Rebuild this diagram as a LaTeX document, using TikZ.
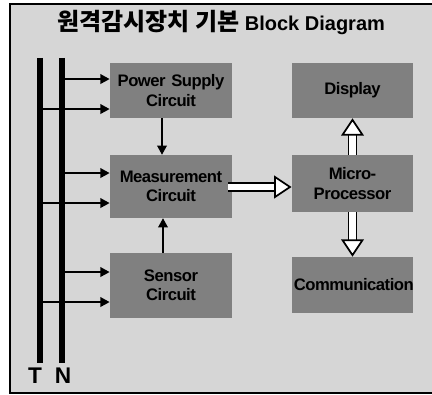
\documentclass[tikz,border=0pt]{standalone}
\usepackage{fontspec}
\setmainfont{Liberation Sans}
\newfontfamily\kr{Noto Sans CJK KR}
\newfontfamily\boxfont{Liberation Sans}[LetterSpace=-3]
\usetikzlibrary{arrows.meta,calc}
\definecolor{bg}{gray}{0.84}
\definecolor{boxfill}{gray}{0.50}
\tikzset{
  blockbox/.style={draw=none, fill=boxfill, inner sep=0pt, align=center,
    font=\boxfont\bfseries\fontsize{12.5}{14.5}\selectfont, text width=88pt},
  bus/.style={line width=4.6pt},
  feed/.style={line width=1.9pt, -{Triangle[length=7pt,width=7pt]}},
  hollow/.style={double=white, double distance=4.8pt, line width=1.3pt,
    -{Triangle[length=13pt,width=17pt,fill=white,line width=1.3pt]}},
  buslabel/.style={font=\bfseries\fontsize{17}{17}\selectfont, inner sep=0pt}
}
\begin{document}
\begin{tikzpicture}[x=0.75pt,y=-0.75pt]
\useasboundingbox (0,0) rectangle (432,395);
\fill[bg] (10,4) rectangle (432,393);
\draw[line width=1.2pt] (432,4) -- (10,4) -- (10,393) -- (432,393);

\node[inner sep=0pt, anchor=west] (title) at (57,22) {\kr\bfseries\fontsize{18}{20}\selectfont 원격감시장치 기본 \normalfont\bfseries\fontsize{15}{17}\selectfont Block Diagram};

% bus lines
\coordinate (Ttop) at (40,58);
\coordinate (Tbot) at (40,363);
\coordinate (Ntop) at (62,58);
\coordinate (Nbot) at (62,363);
\draw[bus] (Ttop) -- (Tbot);
\draw[bus] (Ntop) -- (Nbot);
\node[buslabel] (Tlab) at (35,376) {T};
\node[buslabel] (Nlab) at (63,376) {N};

% boxes
\node[blockbox, minimum width=91.5pt, minimum height=41.25pt] (pwr) at (171,90.5) {Power Supply\\Circuit};
\node[blockbox, minimum width=91.5pt, minimum height=47pt] (meas) at (171,186.5) {Measurement\\Circuit};
\node[blockbox, minimum width=91.5pt, minimum height=48.5pt] (sens) at (171,285.5) {Sensor\\Circuit};
\node[blockbox, minimum width=91pt, minimum height=41.25pt] (disp) at (352.5,90.5) {Display};
\node[blockbox, minimum width=91pt, minimum height=43pt] (micro) at (352.5,183.5) {Micro-\\Processor};
\node[blockbox, minimum width=91pt, minimum height=42pt] (comm) at (352.5,285) {Communication};

% feed arrows from bus
\coordinate (p1) at ([yshift=8.6pt]pwr.west);
\coordinate (p2) at ([yshift=-13.9pt]pwr.west);
\coordinate (m1) at ([yshift=10.1pt]meas.west);
\coordinate (m2) at ([yshift=-12.4pt]meas.west);
\coordinate (s1) at ([yshift=10.1pt]sens.west);
\coordinate (s2) at ([yshift=-12.4pt]sens.west);
\draw[feed] (Ntop |- p1) -- (p1);
\draw[feed] (Ttop |- p2) -- (p2);
\draw[feed] (Ntop |- m1) -- (m1);
\draw[feed] (Ttop |- m2) -- (m2);
\draw[feed] (Ntop |- s1) -- (s1);
\draw[feed] (Ttop |- s2) -- (s2);

% vertical arrows into measurement
\draw[feed] ([xshift=-6.75pt]pwr.south) -- ([xshift=-6.75pt]meas.north);
\draw[feed] ([xshift=-6pt]sens.north) -- ([xshift=-6pt]meas.south);

% hollow arrows
\coordinate (h1) at ([yshift=-0.4pt]meas.east);
\draw[hollow] ([xshift=-3pt]h1) -- (micro.west |- h1);
\draw[hollow] (micro.north) -- (disp.south);
\draw[hollow] (micro.south) -- (comm.north);
\end{tikzpicture}
\end{document}
